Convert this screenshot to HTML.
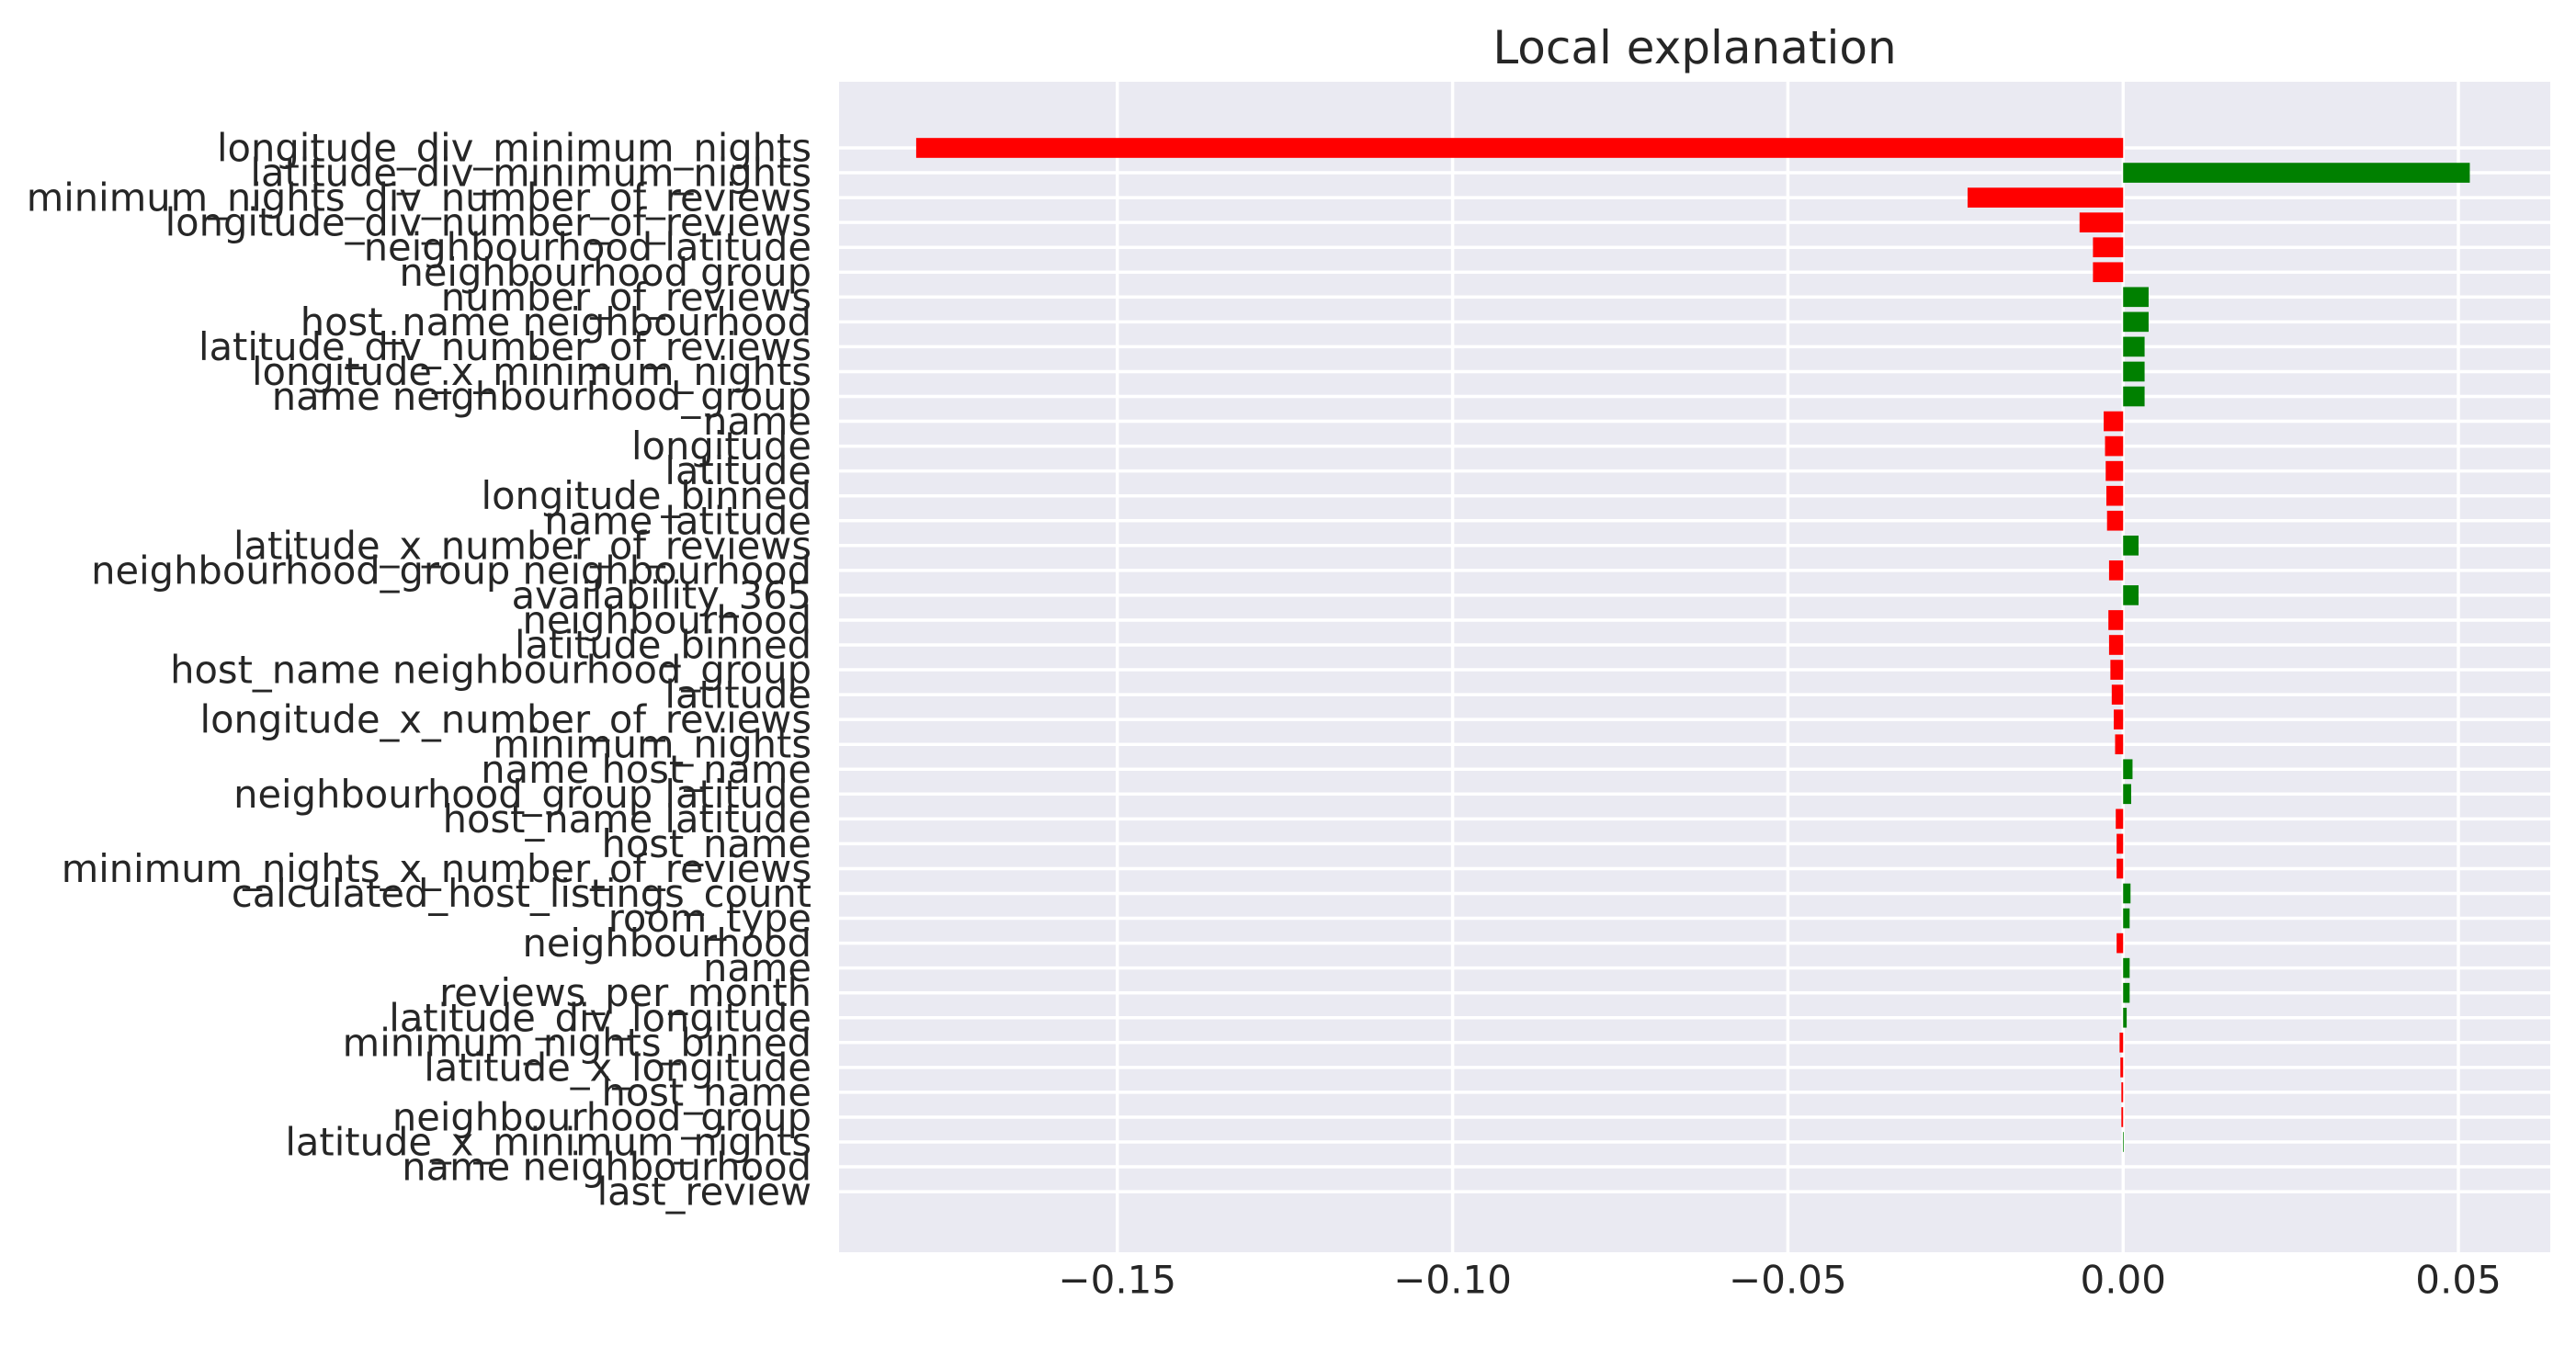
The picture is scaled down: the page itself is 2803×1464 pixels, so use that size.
<!DOCTYPE html>
<html><head><meta charset="utf-8"><style>
html,body{margin:0;padding:0;background:#fff;}
svg{display:block;}
text{font-family:"DejaVu Sans","Liberation Sans",sans-serif;fill:#262626;}
</style></head><body>
<svg id="chart" width="2803" height="1464" viewBox="0 0 2803 1464" xmlns="http://www.w3.org/2000/svg">
<rect x="913" y="89" width="1862" height="1274" fill="#eaeaf2"/>
<g id="grid"></g><g id="bars"></g><g id="ylabels"></g><g id="xlabels"></g>
<text x="1844" y="52" font-size="50" text-anchor="middle" dominant-baseline="central">Local explanation</text>
</svg>
<script>
const features = ["longitude_div_minimum_nights","latitude_div_minimum_nights","minimum_nights_div_number_of_reviews","longitude_div_number_of_reviews","neighbourhood latitude","neighbourhood group","number_of_reviews","host_name neighbourhood","latitude_div_number_of_reviews","longitude_x_minimum_nights","name neighbourhood_group","name","longitude","latitude","longitude_binned","name latitude","latitude_x_number_of_reviews","neighbourhood_group neighbourhood","availability_365","neighbourhood","latitude_binned","host_name neighbourhood_group","latitude","longitude_x_number_of_reviews","minimum_nights","name host_name","neighbourhood_group latitude","host_name latitude","host_name","minimum_nights_x_number_of_reviews","calculated_host_listings_count","room_type","neighbourhood","name","reviews_per_month","latitude_div_longitude","minimum_nights_binned","latitude_x_longitude","host_name","neighbourhood_group","latitude_x_minimum_nights","name neighbourhood","last_review"];
const weights = [-0.1800,0.0517,-0.0232,-0.0065,-0.0045,-0.0045,0.0038,0.0038,0.0032,0.0032,0.0032,-0.0029,-0.0027,-0.0026,-0.0025,-0.0024,0.0023,-0.0021,0.0023,-0.0022,-0.0021,-0.0019,-0.0017,-0.0014,-0.0012,0.0014,0.0012,-0.0011,-0.00097,-0.00097,0.0011,0.00097,-0.00097,0.00097,0.00097,0.00053,-0.00053,-0.00041,-0.00026,-0.00026,0.0001,0,0];
const xTicks = [-0.15,-0.10,-0.05,0.00,0.05];
const xTickLabels = ["\u22120.15","\u22120.10","\u22120.05","0.00","0.05"];
const NS="http://www.w3.org/2000/svg";
const X0=913,X1=2775,XMIN=-0.1915,XMAX=0.0637;
const Y0=161,DY=27.05,TOP=89,BOT=1363;
function xs(v){return X0+(v-XMIN)/(XMAX-XMIN)*(X1-X0);}
function ys(i){return Y0+i*DY;}
const grid=document.getElementById('grid'),bars=document.getElementById('bars'),yl=document.getElementById('ylabels'),xl=document.getElementById('xlabels');
xTicks.forEach((t,k)=>{
 const l=document.createElementNS(NS,'line');
 l.setAttribute('x1',xs(t));l.setAttribute('x2',xs(t));l.setAttribute('y1',TOP);l.setAttribute('y2',BOT);
 l.setAttribute('stroke','#fff');l.setAttribute('stroke-width','3.5');
 
 
 grid.appendChild(l);
 const tx=document.createElementNS(NS,'text');
 tx.setAttribute('x',xs(t));tx.setAttribute('y',1393);tx.setAttribute('font-size','42');
 tx.setAttribute('text-anchor','middle');tx.setAttribute('dominant-baseline','central');
 tx.textContent=xTickLabels[k];
 
 
 xl.appendChild(tx);
});
features.forEach((f,i)=>{
 const l=document.createElementNS(NS,'line');
 l.setAttribute('x1',X0);l.setAttribute('x2',X1);l.setAttribute('y1',ys(i));l.setAttribute('y2',ys(i));
 l.setAttribute('stroke','#fff');l.setAttribute('stroke-width','3.5');
 
 
 grid.appendChild(l);
 const w=weights[i];
 const r=document.createElementNS(NS,'rect');
 const a=xs(Math.min(0,w)),b=xs(Math.max(0,w));
 r.setAttribute('x',a);r.setAttribute('width',Math.max(b-a,0));
 r.setAttribute('y',ys(i)-DY*0.4);r.setAttribute('height',DY*0.8);
 r.setAttribute('fill',w>0?'#008000':'#ff0000');
 
 
 bars.appendChild(r);
 const t=document.createElementNS(NS,'text');
 t.setAttribute('x',883);t.setAttribute('y',ys(i));t.setAttribute('font-size','41.6');
 t.setAttribute('text-anchor','end');t.setAttribute('dominant-baseline','central');
 t.textContent=f;
 
 
 yl.appendChild(t);
});
</script>
</body></html>
